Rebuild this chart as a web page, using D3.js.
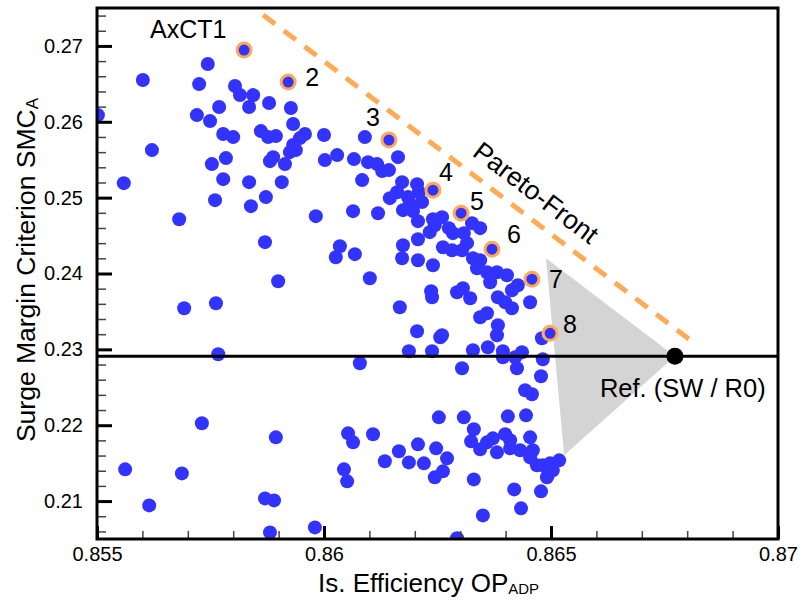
<!DOCTYPE html>
<html>
<head>
<meta charset="utf-8">
<script src="https://cdn.jsdelivr.net/npm/d3@7/dist/d3.min.js"></script>
<style>
  html, body { margin: 0; padding: 0; background: #fff; }
  svg text { font-family: "Liberation Sans", Arial, Helvetica, sans-serif; fill: #000; }
</style>
</head>
<body>
<svg id="chart" width="800" height="605"></svg>
<script>
// Design points: isentropic efficiency at ADP vs. surge margin criterion
const efficiency = [
  0.85502, 0.85601, 0.85621, 0.85559, 0.85744, 0.85725, 0.85804, 0.85815, 0.85844, 0.85769,
  0.85720, 0.85749, 0.85835, 0.85879, 0.85927, 0.85932, 0.85778, 0.85800, 0.85861, 0.85877,
  0.85894, 0.85958, 0.85947, 0.85932, 0.85925, 0.85938, 0.86000, 0.86002, 0.85753, 0.85784,
  0.85888, 0.85881, 0.85914, 0.85778, 0.85835, 0.85907, 0.85760, 0.85839, 0.85872, 0.85982,
  0.85681, 0.85870, 0.86026, 0.85899, 0.85762, 0.85692, 0.85767, 0.85731, 0.85894, 0.85562,
  0.85687, 0.85615, 0.85870, 0.85890, 0.85881, 0.85980, 0.86090, 0.86029, 0.86066, 0.86097,
  0.86117, 0.86128, 0.86143, 0.86163, 0.86084, 0.86172, 0.86205, 0.86161, 0.86145, 0.86185,
  0.86189, 0.86216, 0.86209, 0.86174, 0.86196, 0.86207, 0.86240, 0.86260, 0.86233, 0.86244,
  0.86275, 0.86284, 0.86064, 0.86119, 0.86035, 0.86068, 0.86174, 0.86207, 0.86262, 0.86172,
  0.86207, 0.86240, 0.86101, 0.86236, 0.86238, 0.86167, 0.86205, 0.86256, 0.86187, 0.86238,
  0.86079, 0.86326, 0.86344, 0.86308, 0.86315, 0.86304, 0.86282, 0.86328, 0.86344, 0.86337,
  0.86359, 0.86381, 0.86403, 0.86366, 0.86427, 0.86414, 0.86293, 0.86306, 0.86322, 0.86383,
  0.86399, 0.86414, 0.86454, 0.86359, 0.86344, 0.86383, 0.86381, 0.86361, 0.86328, 0.86260,
  0.86394, 0.86436, 0.86480, 0.86394, 0.86421, 0.86425, 0.86482, 0.86304, 0.86478, 0.86443,
  0.86458, 0.86253, 0.86308, 0.86405, 0.86445, 0.86330, 0.86324, 0.86344, 0.86359, 0.86372,
  0.86381, 0.86399, 0.86410, 0.86410, 0.86432, 0.86454, 0.86460, 0.86454, 0.86469, 0.86482,
  0.86498, 0.86518, 0.86493, 0.86504, 0.86491, 0.86330, 0.86419, 0.86478, 0.86434, 0.86350,
  0.86293, 0.86053, 0.86064, 0.86108, 0.86044, 0.86051, 0.86134, 0.86165, 0.86187, 0.86207,
  0.86220, 0.86247, 0.86271, 0.86262, 0.86244
];
const surgeMargin = [
  0.26088, 0.26550, 0.25627, 0.25191, 0.26761, 0.26497, 0.26471, 0.26352, 0.26352, 0.26194,
  0.26088, 0.26009, 0.26194, 0.26247, 0.26181, 0.25970, 0.25838, 0.25798, 0.25877, 0.25798,
  0.25811, 0.25838, 0.25785, 0.25693, 0.25600, 0.25627, 0.25825, 0.25495, 0.25442, 0.25521,
  0.25534, 0.25481, 0.25442, 0.25244, 0.25204, 0.25204, 0.24967, 0.24888, 0.25007, 0.24756,
  0.24716, 0.24413, 0.24215, 0.23898, 0.23608, 0.23542, 0.22935, 0.22025, 0.21840, 0.21418,
  0.21365, 0.20943, 0.21035, 0.21009, 0.20587, 0.20653, 0.25798, 0.25561, 0.25508, 0.25468,
  0.25442, 0.25350, 0.25363, 0.25534, 0.25231, 0.25204, 0.25178, 0.25072, 0.24993, 0.25007,
  0.24927, 0.24941, 0.25072, 0.24835, 0.24822, 0.24690, 0.24716, 0.24743, 0.24545, 0.24637,
  0.24598, 0.24532, 0.24822, 0.24795, 0.24360, 0.24255, 0.24373, 0.24452, 0.24347, 0.24202,
  0.24175, 0.24109, 0.23938, 0.23766, 0.23687, 0.23555, 0.23239, 0.23160, 0.22975, 0.22975,
  0.22817, 0.24664, 0.24598, 0.24532, 0.24400, 0.24307, 0.24307, 0.24202, 0.24175, 0.24070,
  0.24017, 0.24017, 0.23977, 0.23885, 0.23846, 0.23780, 0.23753, 0.23806, 0.23674, 0.23687,
  0.23621, 0.23542, 0.23621, 0.23476, 0.23423, 0.23318, 0.23186, 0.23028, 0.22988, 0.23186,
  0.22975, 0.22962, 0.23146, 0.22896, 0.22896, 0.22751, 0.22869, 0.22751, 0.22645, 0.22460,
  0.22408, 0.22104, 0.22104, 0.22117, 0.22130, 0.21946, 0.21787, 0.21682, 0.21774, 0.21827,
  0.21642, 0.21880, 0.21801, 0.21695, 0.21669, 0.21840, 0.21669, 0.21576, 0.21471, 0.21471,
  0.21497, 0.21537, 0.21339, 0.21405, 0.21313, 0.21286, 0.21154, 0.21128, 0.20904, 0.20811,
  0.20510, 0.21893, 0.21774, 0.21880, 0.21418, 0.21260, 0.21524, 0.21656, 0.21510, 0.21748,
  0.21497, 0.21695, 0.21563, 0.21392, 0.21313
];

// Pareto-optimal designs (highlighted)
const paretoNames = ["AxCT1", "2", "3", "4", "5", "6", "7", "8"];
const paretoEff   = [0.85824, 0.85921, 0.86143, 0.86240, 0.86302, 0.86370, 0.86458, 0.86498];
const paretoSmc   = [0.26946, 0.26524, 0.25759, 0.25099, 0.24795, 0.24320, 0.23925, 0.23212];

// Reference design
const refEff = [0.86773];
const refSmc = [0.22909];
const refName = "Ref. (SW / R0)";

// Pareto front line
const frontEff = [0.85866, 0.86813];
const frontSmc = [0.27408, 0.23094];
const frontName = "Pareto-Front";

// Shaded region towards the reference design
const regionEff = [0.86489, 0.86529, 0.86773];
const regionSmc = [0.24202, 0.21603, 0.22909];

// Axes
const xTicks = [0.855, 0.86, 0.865, 0.87];
const xTickLabels = ["0.855", "0.86", "0.865", "0.87"];
const xMinor = [0.856, 0.857, 0.858, 0.859, 0.861, 0.862, 0.863, 0.864, 0.866, 0.867, 0.868, 0.869];
const yTicks = [0.21, 0.22, 0.23, 0.24, 0.25, 0.26, 0.27];
const yTickLabels = ["0.21", "0.22", "0.23", "0.24", "0.25", "0.26", "0.27"];
const yMinor = [0.206, 0.208, 0.212, 0.214, 0.216, 0.218, 0.222, 0.224, 0.226, 0.228,
                0.232, 0.234, 0.236, 0.238, 0.242, 0.244, 0.246, 0.248, 0.252, 0.254,
                0.256, 0.258, 0.262, 0.264, 0.266, 0.268, 0.272, 0.274];

// Label placement for the highlighted designs (pixel offsets from the point)
const labelOffsets = [[-94, -12], [17, 4], [-23, -14], [6, -9], [9, -3], [15, -6], [17, 9], [13, 0]];

const W = 800, H = 605;
const margin = { left: 97, top: 8, right: 22, bottom: 66 };
const pw = W - margin.left - margin.right;
const ph = H - margin.top - margin.bottom;

const x = d3.scaleLinear().domain([0.855, 0.87]).range([0, pw]);
const y = d3.scaleLinear().domain([0.205, 0.275]).range([ph, 0]);

const svg = d3.select("#chart");
const g = svg.append("g").attr("transform", `translate(${margin.left},${margin.top})`);

g.append("defs").append("clipPath").attr("id", "plotClip")
  .append("rect").attr("width", pw).attr("height", ph);

const plot = g.append("g").attr("clip-path", "url(#plotClip)");

// shaded triangle
plot.append("path")
  .attr("d", d3.line()(regionEff.map((e, i) => [x(e), y(regionSmc[i])])) + "Z")
  .attr("fill", "#d4d4d4");

// design points
const pts = efficiency.map((e, i) => ({ e, s: surgeMargin[i] }));
plot.selectAll("circle.design").data(pts).join("circle")
  .attr("class", "design")
  .attr("cx", d => x(d.e)).attr("cy", d => y(d.s)).attr("r", 7)
  .attr("fill", "#3333ff");

// reference level
plot.append("line")
  .attr("x1", 0).attr("x2", pw)
  .attr("y1", y(refSmc[0])).attr("y2", y(refSmc[0]))
  .attr("stroke", "#000").attr("stroke-width", 3);

// pareto front
plot.append("line")
  .attr("x1", x(frontEff[0])).attr("y1", y(frontSmc[0]))
  .attr("x2", x(frontEff[1])).attr("y2", y(frontSmc[1]))
  .attr("stroke", "#ffaa55").attr("stroke-width", 5)
  .attr("stroke-dasharray", "15 11");

// highlighted designs
const par = paretoEff.map((e, i) => ({ e, s: paretoSmc[i], name: paretoNames[i], off: labelOffsets[i] }));
plot.selectAll("circle.pareto").data(par).join("circle")
  .attr("class", "pareto")
  .attr("cx", d => x(d.e)).attr("cy", d => y(d.s)).attr("r", 7)
  .attr("fill", "#3333ff").attr("stroke", "#ffaa55").attr("stroke-width", 3);

// reference design point
plot.append("circle")
  .attr("cx", x(refEff[0])).attr("cy", y(refSmc[0])).attr("r", 8.5)
  .attr("fill", "#000");

// labels
g.selectAll("text.plabel").data(par).join("text")
  .attr("class", "plabel")
  .attr("x", d => x(d.e) + d.off[0]).attr("y", d => y(d.s) + d.off[1])
  .attr("font-size", 25)
  .text(d => d.name);

g.append("text")
  .attr("x", x(refEff[0]) - 75).attr("y", y(refSmc[0]) + 41)
  .attr("font-size", 25.5)
  .text(refName);

// front label, aligned with the dashed line and set off along its normal
const fx0 = x(frontEff[0]), fy0 = y(frontSmc[0]), fx1 = x(frontEff[1]), fy1 = y(frontSmc[1]);
const angRad = Math.atan2(fy1 - fy0, fx1 - fx0);
const ang = angRad * 180 / Math.PI;
const t = 0.601, nd = 24;
const tcx = fx0 + t * (fx1 - fx0) + Math.sin(angRad) * nd;
const tcy = fy0 + t * (fy1 - fy0) - Math.cos(angRad) * nd;
g.append("text")
  .attr("transform", `translate(${tcx},${tcy}) rotate(${ang})`)
  .attr("text-anchor", "middle").attr("dy", "0.35em")
  .attr("font-size", 26.5)
  .text(frontName);

// axes: major and minor ticks pointing inward
const xAxis = d3.axisBottom(x).tickValues(xTicks)
  .tickFormat((d, i) => xTickLabels[i]).tickSize(-13).tickPadding(8);
const gx = g.append("g").attr("transform", `translate(0,${ph})`).call(xAxis);
gx.select(".domain").remove();
gx.selectAll(".tick line").attr("stroke", "#000").attr("stroke-width", 3);
gx.selectAll(".tick text").attr("font-size", 20).attr("font-family", "Liberation Sans, Arial, sans-serif");

const gxm = g.append("g").attr("transform", `translate(0,${ph})`)
  .call(d3.axisBottom(x).tickValues(xMinor).tickFormat("").tickSize(-8));
gxm.select(".domain").remove();
gxm.selectAll(".tick line").attr("stroke", "#444").attr("stroke-width", 1.5);

const yAxis = d3.axisLeft(y).tickValues(yTicks)
  .tickFormat((d, i) => yTickLabels[i]).tickSize(-15).tickPadding(14);
const gy = g.append("g").call(yAxis);
gy.select(".domain").remove();
gy.selectAll(".tick line").attr("stroke", "#000").attr("stroke-width", 3);
gy.selectAll(".tick text").attr("font-size", 20).attr("font-family", "Liberation Sans, Arial, sans-serif");

const gym = g.append("g")
  .call(d3.axisLeft(y).tickValues(yMinor).tickFormat("").tickSize(-9));
gym.select(".domain").remove();
gym.selectAll(".tick line").attr("stroke", "#444").attr("stroke-width", 1.5);

// frame
g.append("rect").attr("width", pw).attr("height", ph)
  .attr("fill", "none").attr("stroke", "#000").attr("stroke-width", 3);

// axis titles
const xt = svg.append("text").attr("x", 318).attr("y", 592).attr("font-size", 26);
xt.append("tspan").text("Is. Efficiency OP");
xt.append("tspan").attr("font-size", 15).attr("dy", 2).text("ADP");

const yt = svg.append("text")
  .attr("transform", "translate(35,270) rotate(-90)")
  .attr("text-anchor", "middle").attr("font-size", 26.5);
yt.append("tspan").text("Surge Margin Criterion SMC");
yt.append("tspan").attr("font-size", 17).attr("dy", 3).text("A");
</script>
</body>
</html>
